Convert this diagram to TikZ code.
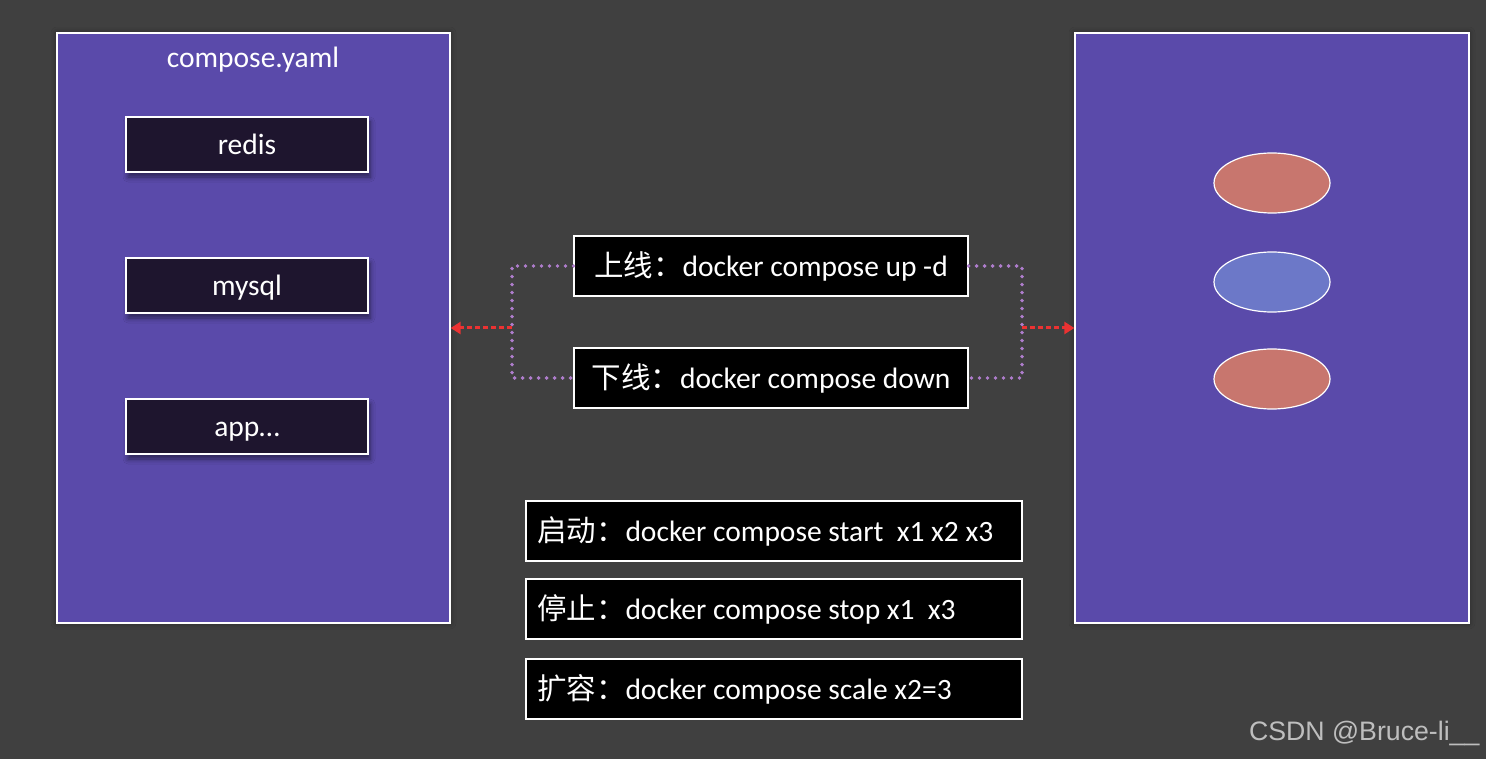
\documentclass[tikz,border=0pt]{standalone}
\usepackage{fontspec}
\setmainfont{Carlito}
\newfontfamily\cjk{Noto Sans CJK SC}
\newfontfamily\wmfont{Liberation Sans}
\usetikzlibrary{arrows.meta,shapes.geometric,shadows.blur}
\definecolor{bgc}{RGB}{64,64,64}
\definecolor{panel}{RGB}{90,74,170}
\definecolor{svc}{RGB}{30,21,46}
\definecolor{redc}{RGB}{200,118,110}
\definecolor{bluec}{RGB}{108,120,200}
\definecolor{dotc}{RGB}{175,125,205}
\definecolor{arrc}{RGB}{235,50,50}
\definecolor{wmc}{RGB}{190,190,190}
\tikzset{
  panelbox/.style={draw=white,line width=1.3pt,fill=panel,inner sep=0pt,
    blur shadow={shadow xshift=0pt,shadow yshift=0pt,shadow blur radius=6pt,shadow opacity=40,shadow scale=1.0}},
  svcbox/.style={draw=white!90,line width=1.2pt,fill=svc,minimum width=242pt,minimum height=55pt,
    text=white,font=\fontsize{29.5}{34}\selectfont,inner sep=0pt,text height=22pt,text depth=2pt,
    blur shadow={shadow xshift=2pt,shadow yshift=-5pt,shadow blur radius=5pt,shadow opacity=50}},
  cmdbox/.style={draw=white,line width=1.2pt,fill=black,minimum height=60pt,inner sep=0pt,
    text=white,font=\fontsize{29.5}{34}\selectfont},
  inst/.style={ellipse,draw=white,line width=1.2pt,minimum width=116pt,minimum height=60pt,inner sep=0pt},
  dotline/.style={draw=dotc,line width=3.8pt,dash pattern=on 0pt off 8pt,line cap=round},
  redarrow/.style={draw=arrc,line width=3pt,dash pattern=on 5pt off 3pt,-{Triangle[length=10pt,width=12pt]}},
}
\begin{document}
\begin{tikzpicture}[x=1pt,y=-1pt]
\fill[bgc] (0,0) rectangle (1486,759);
\useasboundingbox (0,0) rectangle (1486,759);
% panels
\node[panelbox,minimum width=393pt,minimum height=590pt] (lp) at (253.5,328) {};
\node[panelbox,minimum width=394pt,minimum height=590pt] (rp) at (1272,328) {};
\node[text=white,font=\fontsize{29.5}{34}\selectfont] (title) at (253,60) {compose.yaml};
% services
\node[svcbox] (redis) at (247,144.5) {redis};
\node[svcbox] (mysql) at (247,285.5) {mysql};
\node[svcbox] (app) at (247,426.5) {app…};
% instances
\node[inst,fill=redc] (e1) at (1272,183) {};
\node[inst,fill=bluec] (e2) at (1272,282) {};
\node[inst,fill=redc] (e3) at (1272,379) {};
% up/down
\node[cmdbox,minimum width=394pt] (up) at (771,266) {{\cjk 上线：}docker compose up -d};
\node[cmdbox,minimum width=394pt] (down) at (771,378) {{\cjk 下线：}docker compose down};
\coordinate (jl) at (512,328);
\coordinate (jr) at (1022,328);
\draw[dotline] (up.west) -| (jl) |- (down.west);
\draw[dotline] (up.east) -| (jr) |- (down.east);
\draw[redarrow] (jl) -- (lp.east);
\draw[redarrow] (jr) -- (rp.west);
% lifecycle
\tikzset{lifebox/.style={cmdbox,minimum width=496pt,text width=474pt,align=flush left}}
\node[lifebox] (start) at (774,531) {{\cjk 启动：}docker compose start\ \ x1 x2 x3};
\node[lifebox] (stop) at (774,609) {{\cjk 停止：}docker compose stop x1\ \ x3};
\node[lifebox] (scale) at (774,689) {{\cjk 扩容：}docker compose scale x2=3};
% watermark
\node[text=wmc,font=\wmfont\fontsize{26.7}{30}\selectfont,anchor=east] (wm) at (1483,733) {CSDN @Bruce-li\_\_};
\end{tikzpicture}
\end{document}
